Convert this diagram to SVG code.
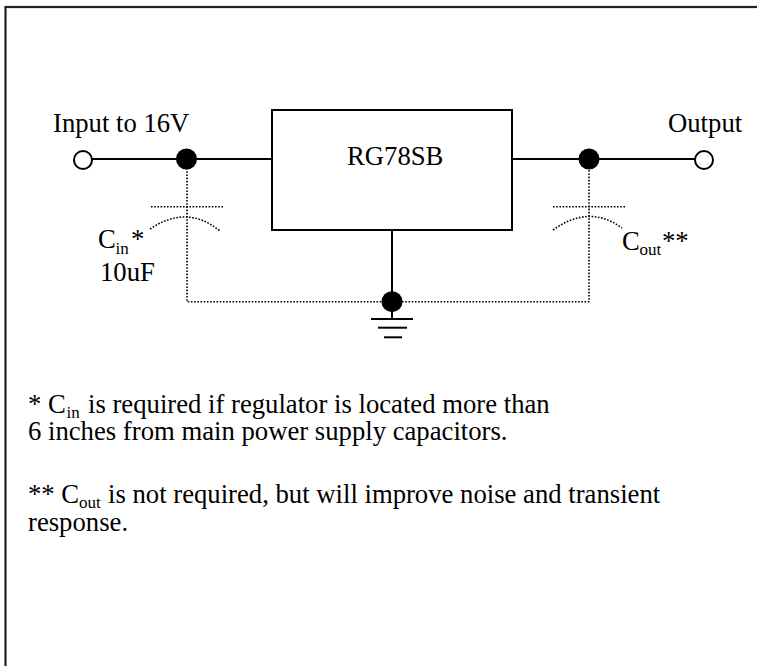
<svg xmlns="http://www.w3.org/2000/svg" width="757" height="666" viewBox="0 0 757 666">
<style>
text{font-family:"Liberation Serif","Times New Roman",Times,"DejaVu Serif","Noto Serif",serif;font-size:26.7px;fill:#000}
.sub{font-size:17px}
.w{stroke:#000;stroke-width:2;fill:none}
.d{stroke:#000;stroke-width:1.6;fill:none;stroke-dasharray:1.6 1.6}
.dot{fill:#000}
.term{fill:#fff;stroke:#000;stroke-width:2}
</style>
<rect x="5.5" y="7" width="800" height="700" fill="#fff" stroke="#222" stroke-width="2.2"/>
<g id="connectors">
<line class="w" x1="92" y1="159" x2="272" y2="159"/>
<line class="w" x1="512" y1="159" x2="695" y2="159"/>
<line class="w" x1="392" y1="230" x2="392" y2="319"/>
<polyline class="d" points="187,168 187,301.7 589,301.7 589,168"/>
</g>
<g id="input">
<circle class="term" cx="83" cy="160" r="9"/>
<text font-family="Liberation Serif, Times New Roman, serif" x="53" y="132">Input to 16V</text>
</g>
<g id="output">
<circle class="term" cx="704" cy="160" r="9"/>
<text font-family="Liberation Serif, Times New Roman, serif" x="668" y="132">Output</text>
</g>
<g id="regulator">
<rect x="272" y="110" width="240" height="120" fill="#fff" stroke="#000" stroke-width="2"/>
<text font-family="Liberation Serif, Times New Roman, serif" x="347" y="165">RG78SB</text>
</g>
<g id="junction-in"><circle class="dot" cx="186.5" cy="159" r="10.5"/></g>
<g id="junction-out"><circle class="dot" cx="589" cy="159" r="10.5"/></g>
<g id="junction-gnd"><circle class="dot" cx="392" cy="301.7" r="10.5"/></g>
<g id="cin">
<line class="d" x1="151" y1="206.7" x2="223" y2="206.7"/>
<path class="d" d="M150,229 Q187,204 220,231"/>
<text x="98" y="248.3">C</text>
<text class="sub" x="115.5" y="253.5">in</text>
<text x="131" y="248.3">*</text>
<text x="100" y="281">10uF</text>
</g>
<g id="cout">
<line class="d" x1="553" y1="206.7" x2="625" y2="206.7"/>
<path class="d" d="M553,230 Q589,204 622,228"/>
<text x="622" y="250">C</text>
<text class="sub" x="639.5" y="255">out</text>
<text x="662" y="250">**</text>
</g>
<g id="ground">
<line class="w" x1="371" y1="319" x2="413" y2="319"/>
<line class="w" x1="378" y1="327.7" x2="407" y2="327.7"/>
<line class="w" x1="384" y1="337.3" x2="402" y2="337.3"/>
</g>
<g id="notes">
<text x="28" y="413">* C</text>
<text class="sub" x="66.5" y="418">in</text>
<text x="88" y="413">is required if regulator is located more than</text>
<text x="28" y="440">6 inches from main power supply capacitors.</text>
<text x="28" y="503">** C</text>
<text class="sub" x="79" y="508">out</text>
<text x="108" y="503">is not required, but will improve noise and transient</text>
<text x="28" y="531">response.</text>
</g>
</svg>
